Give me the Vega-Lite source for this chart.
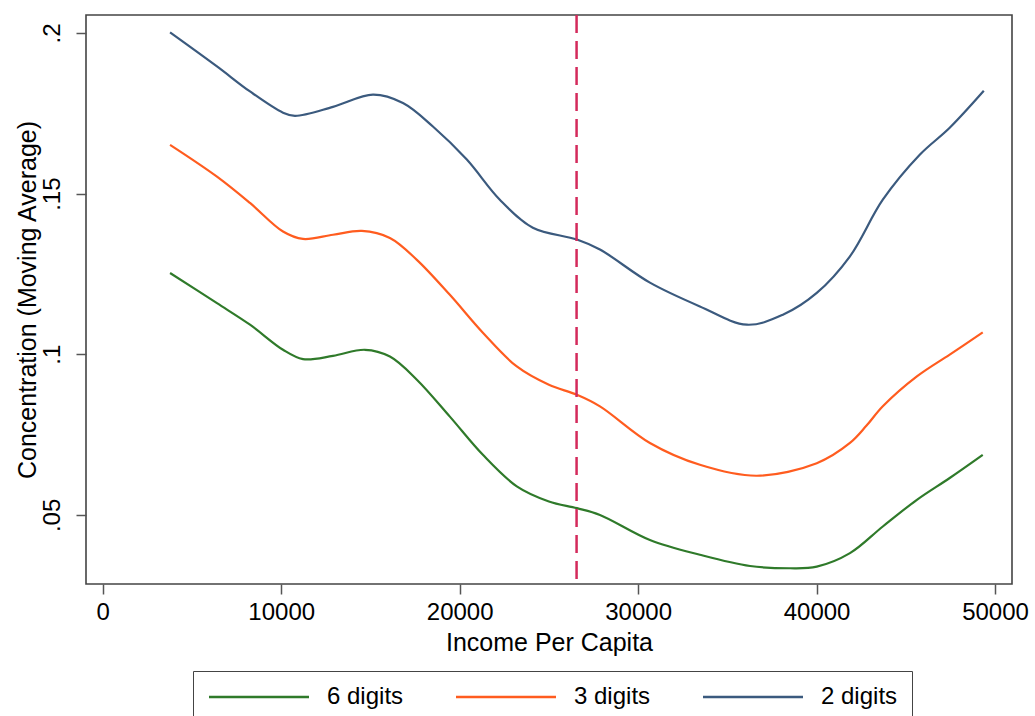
{
  "$schema": "https://vega.github.io/schema/vega-lite/v6.json",
  "width": 926,
  "height": 569,
  "autosize": {"type": "none"},
  "padding": {"left": 86, "top": 15, "right": 23, "bottom": 132},
  "background": "white",
  "config": {
    "font": "Liberation Sans",
    "view": {"stroke": "#444", "strokeWidth": 1.6},
    "axis": {"grid": false, "domain": false, "ticks": true, "tickColor": "#555", "tickWidth": 1.5, "tickSize": 10,
             "labelFont": "Liberation Sans", "labelFontSize": 24, "labelColor": "#000",
             "titleFont": "Liberation Sans", "titleFontSize": 25, "titleFontWeight": "normal", "titleColor": "#000"}
  },
  "layer": [
    {
      "data": {"values": [
        {"series": "2 digits", "income": 3770, "conc": 0.2002},
        {"series": "2 digits", "income": 6400, "conc": 0.1896},
        {"series": "2 digits", "income": 8250, "conc": 0.1818},
        {"series": "2 digits", "income": 10100, "conc": 0.1752},
        {"series": "2 digits", "income": 10770, "conc": 0.1742},
        {"series": "2 digits", "income": 12900, "conc": 0.1770},
        {"series": "2 digits", "income": 15140, "conc": 0.1808},
        {"series": "2 digits", "income": 16820, "conc": 0.1782},
        {"series": "2 digits", "income": 18500, "conc": 0.1709},
        {"series": "2 digits", "income": 20400, "conc": 0.1606},
        {"series": "2 digits", "income": 22250, "conc": 0.1481},
        {"series": "2 digits", "income": 24100, "conc": 0.1394},
        {"series": "2 digits", "income": 26570, "conc": 0.1357},
        {"series": "2 digits", "income": 27860, "conc": 0.1326},
        {"series": "2 digits", "income": 30660, "conc": 0.1223},
        {"series": "2 digits", "income": 33460, "conc": 0.1149},
        {"series": "2 digits", "income": 36090, "conc": 0.1092},
        {"series": "2 digits", "income": 38110, "conc": 0.1123},
        {"series": "2 digits", "income": 40010, "conc": 0.1191},
        {"series": "2 digits", "income": 41870, "conc": 0.1305},
        {"series": "2 digits", "income": 43710, "conc": 0.1481},
        {"series": "2 digits", "income": 45780, "conc": 0.1621},
        {"series": "2 digits", "income": 47460, "conc": 0.1705},
        {"series": "2 digits", "income": 49370, "conc": 0.1820},
        {"series": "3 digits", "income": 3770, "conc": 0.1652},
        {"series": "3 digits", "income": 6400, "conc": 0.1553},
        {"series": "3 digits", "income": 8250, "conc": 0.1471},
        {"series": "3 digits", "income": 10100, "conc": 0.1382},
        {"series": "3 digits", "income": 11220, "conc": 0.1359},
        {"series": "3 digits", "income": 12900, "conc": 0.1372},
        {"series": "3 digits", "income": 14520, "conc": 0.1384},
        {"series": "3 digits", "income": 16090, "conc": 0.1362},
        {"series": "3 digits", "income": 17600, "conc": 0.1294},
        {"series": "3 digits", "income": 19450, "conc": 0.1185},
        {"series": "3 digits", "income": 21300, "conc": 0.1067},
        {"series": "3 digits", "income": 23200, "conc": 0.0962},
        {"series": "3 digits", "income": 25000, "conc": 0.0905},
        {"series": "3 digits", "income": 26570, "conc": 0.0874},
        {"series": "3 digits", "income": 27860, "conc": 0.0838},
        {"series": "3 digits", "income": 30660, "conc": 0.0724},
        {"series": "3 digits", "income": 33460, "conc": 0.0656},
        {"series": "3 digits", "income": 36650, "conc": 0.0622},
        {"series": "3 digits", "income": 40010, "conc": 0.0661},
        {"series": "3 digits", "income": 41870, "conc": 0.0724},
        {"series": "3 digits", "income": 42800, "conc": 0.0778},
        {"series": "3 digits", "income": 43710, "conc": 0.0838},
        {"series": "3 digits", "income": 45620, "conc": 0.0931},
        {"series": "3 digits", "income": 47460, "conc": 0.0999},
        {"series": "3 digits", "income": 49310, "conc": 0.1068},
        {"series": "6 digits", "income": 3770, "conc": 0.1253},
        {"series": "6 digits", "income": 6400, "conc": 0.1159},
        {"series": "6 digits", "income": 8250, "conc": 0.1092},
        {"series": "6 digits", "income": 10100, "conc": 0.1014},
        {"series": "6 digits", "income": 11220, "conc": 0.0985},
        {"series": "6 digits", "income": 12900, "conc": 0.0995},
        {"series": "6 digits", "income": 14690, "conc": 0.1014},
        {"series": "6 digits", "income": 16090, "conc": 0.0993},
        {"series": "6 digits", "income": 17600, "conc": 0.0921},
        {"series": "6 digits", "income": 19450, "conc": 0.0806},
        {"series": "6 digits", "income": 21300, "conc": 0.0687},
        {"series": "6 digits", "income": 23200, "conc": 0.0589},
        {"series": "6 digits", "income": 25000, "conc": 0.0542},
        {"series": "6 digits", "income": 26570, "conc": 0.0521},
        {"series": "6 digits", "income": 27860, "conc": 0.0500},
        {"series": "6 digits", "income": 30660, "conc": 0.0422},
        {"series": "6 digits", "income": 33460, "conc": 0.0376},
        {"series": "6 digits", "income": 36270, "conc": 0.0341},
        {"series": "6 digits", "income": 38500, "conc": 0.0334},
        {"series": "6 digits", "income": 40010, "conc": 0.0339},
        {"series": "6 digits", "income": 41870, "conc": 0.0381},
        {"series": "6 digits", "income": 43710, "conc": 0.0464},
        {"series": "6 digits", "income": 45620, "conc": 0.0547},
        {"series": "6 digits", "income": 47460, "conc": 0.0615},
        {"series": "6 digits", "income": 49310, "conc": 0.0687}
      ]},
      "mark": {"type": "line", "interpolate": "catmull-rom", "strokeWidth": 2.2},
      "encoding": {
        "x": {"field": "income", "type": "quantitative",
              "scale": {"domain": [-940, 50950], "nice": false, "zero": false},
              "axis": {"title": "Income Per Capita", "values": [0, 10000, 20000, 30000, 40000, 50000], "format": "d",
                       "labelPadding": 6, "titleY": 58, "titleBaseline": "middle"}},
        "y": {"field": "conc", "type": "quantitative",
              "scale": {"domain": [0.0285, 0.2056], "nice": false, "zero": false},
              "axis": {"title": "Concentration (Moving Average)", "values": [0.05, 0.1, 0.15, 0.2],
                       "labelExpr": "replace(format(datum.value, '.2~f'), '0.', '.')",
                       "labelAngle": -90, "labelAlign": "center", "labelBaseline": "bottom", "labelPadding": 12,
                       "titleX": -59, "titleBaseline": "middle"}},
        "color": {"field": "series", "type": "nominal",
                  "scale": {"domain": ["6 digits", "3 digits", "2 digits"], "range": ["#2f7a2a", "#ff5c1f", "#3b5a7e"]},
                  "legend": {"title": null, "orient": "none", "direction": "horizontal", "legendX": 107, "legendY": 656,
                             "strokeColor": "#444", "padding": 14, "symbolType": "M-1,0H9", "symbolSize": 400,
                             "symbolStrokeWidth": 2.5, "symbolFillColor": "transparent", "labelFontSize": 24, "labelFont": "Liberation Sans", "labelColor": "#000",
                             "labelOffset": 96, "columnPadding": 47, "symbolOffset": 0}}
      }
    },
    {
      "data": {"values": [{"threshold": 26550}]},
      "mark": {"type": "rule", "color": "#d42a5b", "strokeWidth": 2.5, "strokeDash": [18, 8]},
      "encoding": {"x": {"field": "threshold", "type": "quantitative"}}
    }
  ]
}
